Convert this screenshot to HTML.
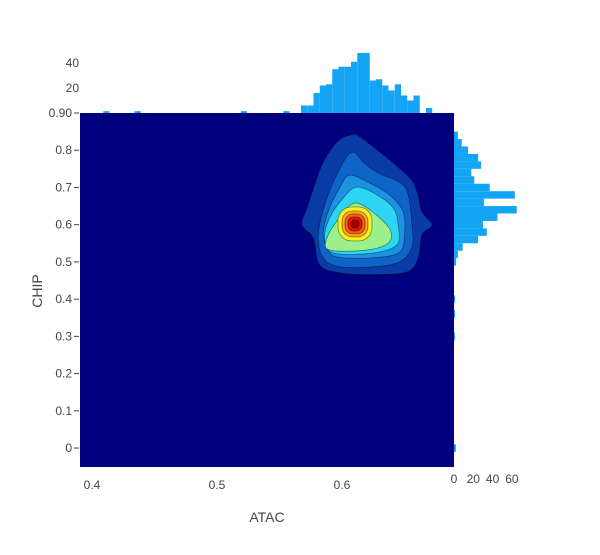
<!DOCTYPE html>
<html><head><meta charset="utf-8"><style>
body{margin:0;background:#fff;font-family:"Liberation Sans",sans-serif;}
svg text{font-family:"Liberation Sans",sans-serif;fill:#444;font-size:12px;}
</style></head><body>
<svg id="chart" width="600" height="550" xmlns="http://www.w3.org/2000/svg"></svg>
<script>
// ---- data ----
const xTicks=[0.4,0.5,0.6];
const yTicks=[0,0.1,0.2,0.3,0.4,0.5,0.6,0.7,0.8,0.9];
const yTickLabels=["0","0.1","0.2","0.3","0.4","0.5","0.6","0.7","0.8","0.90"];
const topHistTicks=[20,40];
const rightHistTicks=[0,20,40,60];
const topBinStart=0.5672, topBinWidth=0.005;
const topCounts=[6,6,16,22,23,35,37,37,41,48,48,26,27,22,18,23,14,10,14,0,4];
const topExtraX=[0.409,0.434,0.519,0.553];
const topExtraCounts=[1.5,1.5,1.5,1.5];
const rightBinTop=0.85, rightBinWidth=0.02;
const rightCounts=[4,8,14.5,25,28,18,21,37,63,31,65,45,30,34,25,9,4,2];
const rightExtraY=[0.40,0.36,0.30,0.0];
const rightExtraCounts=[1,1,1,2];
const contourLevels=[
 [[0.606,0.840],[0.616,0.832],[0.652,0.733],[0.66,0.688],[0.664,0.634],[0.672,0.599],[0.664,0.573],[0.661,0.511],[0.652,0.473],[0.625,0.466],[0.598,0.471],[0.582,0.492],[0.577,0.564],[0.568,0.599],[0.572,0.645],[0.578,0.706],[0.585,0.768],[0.596,0.822]],
 [[0.609,0.795],[0.617,0.768],[0.629,0.739],[0.646,0.714],[0.653,0.680],[0.656,0.599],[0.656,0.540],[0.646,0.500],[0.625,0.487],[0.598,0.487],[0.585,0.511],[0.581,0.573],[0.588,0.672],[0.601,0.768]],
 [[0.606,0.733],[0.622,0.712],[0.638,0.680],[0.649,0.634],[0.650,0.573],[0.646,0.526],[0.625,0.511],[0.596,0.513],[0.588,0.538],[0.585,0.580],[0.590,0.645],[0.598,0.698]],
 [[0.612,0.701],[0.628,0.680],[0.641,0.645],[0.645,0.599],[0.644,0.546],[0.625,0.524],[0.593,0.524],[0.586,0.564],[0.590,0.618],[0.601,0.672]],
 [[0.612,0.658],[0.636,0.599],[0.638,0.554],[0.620,0.532],[0.590,0.532],[0.588,0.564],[0.598,0.618]]
];
const contourColors=["#0a3ca8","#0f64c8","#1c92e2","#2cd6f2","#9cf08c"];
const peakX=0.6104, peakY=0.602;
const peakRadii=[0.0136,0.0104,0.008,0.0056,0.0032];
const peakColors=["#f8f020","#f8a818","#f85a10","#e01808","#a00000"];
// ---- layout ----
const L=80,R=454,T=113,B=467;
const xMin=0.3904,xMax=0.6896,yMin=-0.0509,yMax=0.9;
const X=v=>L+(v-xMin)/(xMax-xMin)*(R-L);
const Y=v=>B-(v-yMin)/(yMax-yMin)*(B-T);
const topC=c=>T-c*1.25;
const rightC=c=>R+c*0.965;
const svg=document.getElementById('chart');
const NS="http://www.w3.org/2000/svg";
function mk(tag,attrs,parent){const e=document.createElementNS(NS,tag);for(const k in attrs)e.setAttribute(k,attrs[k]);(parent||svg).appendChild(e);return e;}
function smoothPath(pts){
 const n=pts.length;let d='M'+pts[0][0]+','+pts[0][1];
 for(let i=0;i<n;i++){
  const p0=pts[(i-1+n)%n],p1=pts[i],p2=pts[(i+1)%n],p3=pts[(i+2)%n];
  const c1=[p1[0]+(p2[0]-p0[0])/6,p1[1]+(p2[1]-p0[1])/6];
  const c2=[p2[0]-(p3[0]-p1[0])/6,p2[1]-(p3[1]-p1[1])/6];
  d+=' C'+c1[0]+','+c1[1]+' '+c2[0]+','+c2[1]+' '+p2[0]+','+p2[1];
 }
 return d+'Z';
}
const bg=mk('rect',{x:L,y:T,width:R-L,height:B-T,fill:'#00007f'});


contourLevels.forEach((pts,i)=>{
 const p=mk('path',{d:smoothPath(pts.map(q=>[X(q[0]),Y(q[1])])),fill:contourColors[i],stroke:'#000','stroke-opacity':0.5,'stroke-width':0.7});
 
 
});
peakRadii.forEach((r,i)=>{
 const pr=X(peakX+r)-X(peakX);
 const e=mk('rect',{x:X(peakX)-pr,y:Y(peakY)-pr,width:2*pr,height:2*pr,rx:pr*0.8,fill:peakColors[i],stroke:'#000','stroke-opacity':0.5,'stroke-width':0.7});
 
 
});
topCounts.forEach((c,i)=>{
 if(!c)return;
 const x0=X(topBinStart+i*topBinWidth),x1=X(topBinStart+(i+1)*topBinWidth);
 const b=mk('rect',{x:x0,y:topC(c),width:x1-x0,height:T-topC(c),fill:'#14a4f6'});
 
 
});
topExtraX.forEach((v,i)=>{
 const x0=X(v),x1=X(v+topBinWidth);
 const b=mk('rect',{x:x0,y:topC(topExtraCounts[i]),width:x1-x0,height:T-topC(topExtraCounts[i]),fill:'#14a4f6'});
 
 
});
rightCounts.forEach((c,i)=>{
 const y0=Y(rightBinTop-i*rightBinWidth),y1=Y(rightBinTop-(i+1)*rightBinWidth);
 const b=mk('rect',{x:R,y:y0,width:rightC(c)-R,height:y1-y0,fill:'#14a4f6'});
 
 
});
rightExtraY.forEach((v,i)=>{
 const y0=Y(v+rightBinWidth/2),y1=Y(v-rightBinWidth/2);
 const b=mk('rect',{x:R,y:y0,width:rightC(rightExtraCounts[i])-R,height:y1-y0,fill:'#14a4f6'});
 
 
});
xTicks.forEach(v=>{
 const t=mk('text',{x:X(v),y:489,'text-anchor':'middle'});t.textContent=v;
 
 
});
yTicks.forEach((v,i)=>{
 const t=mk('text',{x:72,y:Y(v)+4,'text-anchor':'end'});t.textContent=yTickLabels[i];
 
 
 const l=mk('line',{x1:74,x2:79,y1:Y(v),y2:Y(v),stroke:'#444','stroke-width':1});
 
 
});
topHistTicks.forEach(v=>{
 const t=mk('text',{x:79,y:topC(v)+4,'text-anchor':'end'});t.textContent=v;
 
 
});
rightHistTicks.forEach(v=>{
 const t=mk('text',{x:rightC(v),y:483,'text-anchor':'middle'});t.textContent=v;
 
 
});
const xt=mk('text',{x:267,y:522,'text-anchor':'middle',style:'font-size:14px'});xt.textContent='ATAC';


const yt=mk('text',{x:42,y:291,'text-anchor':'middle',transform:'rotate(-90 42 291)',style:'font-size:14px'});yt.textContent='CHIP';


</script>
</body></html>
